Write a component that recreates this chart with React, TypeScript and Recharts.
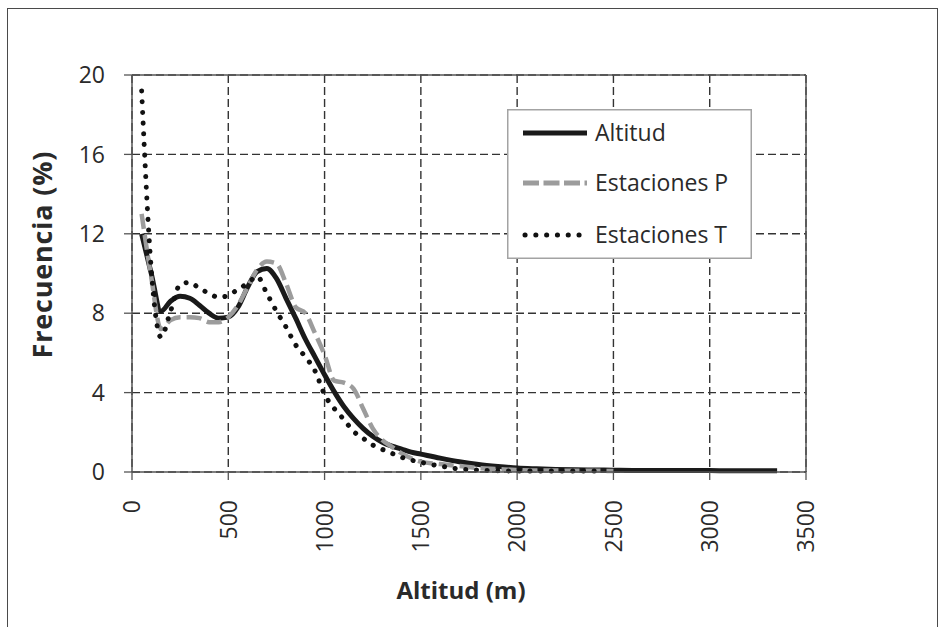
import React from 'react';
import { LineChart, Line, XAxis, YAxis, CartesianGrid, Legend, ReferenceLine, Label } from 'recharts';

const FONT = '"Open Sans", "Noto Sans", sans-serif';

const altitudes = [
  50, 100, 150, 200, 250, 300, 350, 400, 450, 500,
  550, 600, 650, 700, 750, 800, 850, 900, 950, 1000,
  1050, 1100, 1150, 1200, 1250, 1300, 1350, 1400, 1450, 1500,
  1600, 1700, 1800, 1900, 2000, 2100, 2200, 2300, 2400, 2500,
  2600, 2700, 2800, 2900, 3000, 3100, 3200, 3300, 3350,
];

const altitudSerie = [
  12.0, 10.0, 8.1, 8.6, 8.85, 8.75, 8.4, 8.0, 7.75, 7.8,
  8.3, 9.3, 10.1, 10.25, 9.75, 8.75, 7.75, 6.7, 5.8, 4.9,
  4.05, 3.3, 2.7, 2.2, 1.8, 1.5, 1.3, 1.15, 1.0, 0.9,
  0.7, 0.52, 0.38, 0.28, 0.2, 0.16, 0.13, 0.11, 0.1, 0.09,
  0.08, 0.08, 0.07, 0.07, 0.07, 0.06, 0.06, 0.06, 0.06,
];

const estacionesP = [
  13.0, 9.8, 7.2, 7.65, 7.8, 7.8, 7.75, 7.55, 7.55, 7.8,
  8.4, 9.3, 10.2, 10.6, 10.5, 9.5, 8.3, 8.0, 7.0, 5.9,
  4.6, 4.5, 4.2, 3.2, 2.2, 1.6, 1.27, 0.94, 0.69, 0.52,
  0.4, 0.3, 0.2, 0.15, 0.1, 0.07, 0.07, 0.06, 0.06, 0.05,
];

const estacionesT = [
  19.2, 10.2, 6.8, 8.1, 9.45, 9.55, 9.25, 9.0, 8.8, 8.9,
  9.2, 9.5, 9.85, 9.0, 8.1, 7.3, 6.4, 5.8, 5.1, 3.9,
  3.2, 2.65, 2.05, 1.7, 1.36, 1.14, 0.94, 0.74, 0.6, 0.49,
  0.3, 0.15, 0.1, 0.06, 0.05, 0.05, 0.05, 0.05, 0.05,
];

const xTicks = [0, 500, 1000, 1500, 2000, 2500, 3000, 3500];
const yTicks = [0, 4, 8, 12, 16, 20];

const seriesNames = ['Altitud', 'Estaciones P', 'Estaciones T'];
const xTitle = 'Altitud (m)';
const yTitle = 'Frecuencia (%)';

const data = altitudes.map((a, i) => ({
  alt: a,
  altitud: altitudSerie[i] ?? null,
  estP: estacionesP[i] ?? null,
  estT: estacionesT[i] ?? null,
}));

const AXIS = '#555555';
const TEXT = '#2a2a2a';

const XTick = (props: any) => {
  const { x, y, payload } = props;
  return (
    <text
      x={x}
      y={y}
      dy="0.36em"
      transform={`rotate(-90, ${x}, ${y})`}
      textAnchor="end"
      fill={TEXT}
      fontSize={23}
      fontFamily={FONT}
    >
      {payload.value}
    </text>
  );
};

const legendStyles = [
  { stroke: '#1a1a1a', dash: undefined as string | undefined, cap: 'butt' as const },
  { stroke: '#9c9c9c', dash: '16 4.5', cap: 'butt' as const },
  { stroke: '#111111', dash: '0.1 10.7', cap: 'round' as const },
];

const renderLegend = () => {
  const rows = [24, 74, 126];
  return (
    <svg width={245} height={150} style={{ display: 'block' }}>
      <rect x={0.75} y={0.75} width={243.5} height={148.5} fill="#ffffff" stroke="#a3a3a3" strokeWidth={1.5} />
      {seriesNames.map((name, i) => (
        <g key={name}>
          <line
            x1={legendStyles[i].cap === 'round' ? 18 : 16}
            x2={80}
            y1={rows[i]}
            y2={rows[i]}
            stroke={legendStyles[i].stroke}
            strokeWidth={5}
            strokeDasharray={legendStyles[i].dash}
            strokeLinecap={legendStyles[i].cap}
          />
          <text x={88} y={rows[i]} dy="0.36em" fill={TEXT} fontSize={23} fontFamily={FONT}>
            {name}
          </text>
        </g>
      ))}
    </svg>
  );
};

export default function App() {
  return (
    <div style={{ position: 'fixed', left: 0, top: 0, width: 940, height: 627, background: '#ffffff', overflow: 'hidden' }}>
      <div
        style={{
          position: 'absolute',
          left: 7,
          top: 8,
          width: 931,
          height: 700,
          boxSizing: 'border-box',
          border: '1.5px solid #4a4a4a',
        }}
      />
      <LineChart
        width={940}
        height={627}
        data={data}
        margin={{ top: 75, right: 134, bottom: 55, left: 32 }}
        style={{ position: 'absolute', left: 0, top: 0 }}
      >
        <CartesianGrid stroke="#333333" strokeWidth={1.4} strokeDasharray="8 4" />
        <XAxis
          dataKey="alt"
          type="number"
          domain={[0, 3500]}
          ticks={xTicks}
          interval={0}
          height={100}
          tickSize={8}
          tickMargin={20}
          tick={<XTick />}
          axisLine={{ stroke: AXIS, strokeWidth: 1.5 }}
          tickLine={{ stroke: AXIS, strokeWidth: 1.3 }}
        >
          <Label
            content={() => (
              <text x={461} y={599} textAnchor="middle" fill={TEXT} fontSize={24} fontWeight="bold" fontFamily={FONT}>
                {xTitle}
              </text>
            )}
          />
        </XAxis>
        <YAxis
          type="number"
          domain={[0, 20]}
          ticks={yTicks}
          interval={0}
          width={100}
          tickSize={8}
          tickMargin={19}
          axisLine={{ stroke: AXIS, strokeWidth: 1.5 }}
          tickLine={{ stroke: AXIS, strokeWidth: 1.3 }}
          tick={{ fill: TEXT, fontSize: 23, fontFamily: FONT }}
        >
          <Label
            content={() => (
              <text
                x={0}
                y={0}
                transform="translate(52, 255) rotate(-90)"
                textAnchor="middle"
                fill={TEXT}
                fontSize={27}
                fontWeight="bold"
                fontFamily={FONT}
                textLength={207}
                lengthAdjust="spacing"
              >
                {yTitle}
              </text>
            )}
          />
        </YAxis>
        <ReferenceLine y={20} stroke={AXIS} strokeWidth={1.5} />
        <ReferenceLine x={3500} stroke={AXIS} strokeWidth={1.5} />
        <Line
          type="monotone"
          dataKey="altitud"
          name={seriesNames[0]}
          stroke="#1a1a1a"
          strokeWidth={5}
          dot={false}
          activeDot={false}
          isAnimationActive={false}
        />
        <Line
          type="monotone"
          dataKey="estP"
          name={seriesNames[1]}
          stroke="#9c9c9c"
          strokeWidth={4.5}
          strokeDasharray="15 6"
          dot={false}
          activeDot={false}
          isAnimationActive={false}
        />
        <Line
          type="monotone"
          dataKey="estT"
          name={seriesNames[2]}
          stroke="#111111"
          strokeWidth={5}
          strokeDasharray="0.1 10.6"
          strokeLinecap="round"
          dot={false}
          activeDot={false}
          isAnimationActive={false}
        />
        <Legend
          layout="horizontal"
          verticalAlign="middle"
          align="center"
          content={renderLegend}
          wrapperStyle={{ left: 507, top: 109, width: 245, height: 150 }}
        />
      </LineChart>
    </div>
  );
}
